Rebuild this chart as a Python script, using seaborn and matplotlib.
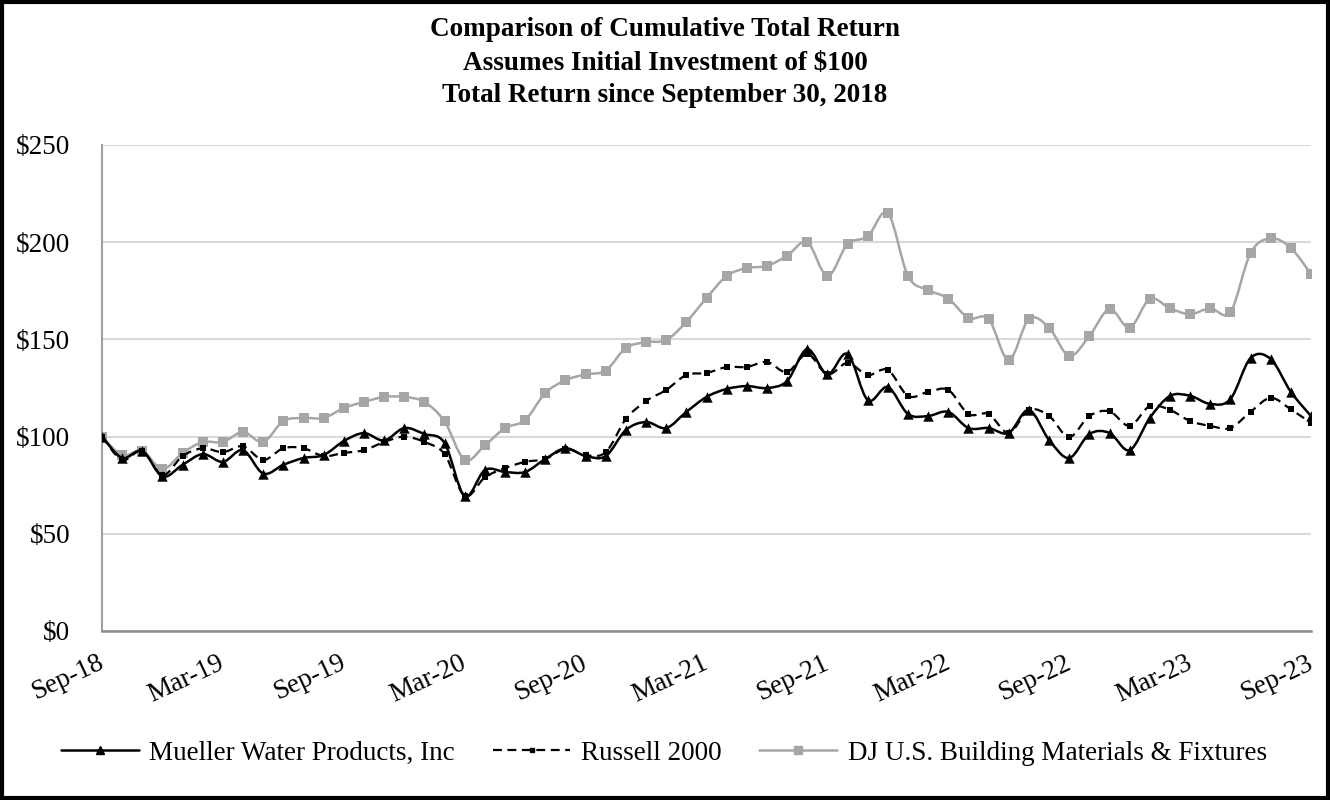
import numpy as np
import pandas as pd
import matplotlib
matplotlib.use("Agg")
import matplotlib.pyplot as plt
import matplotlib.transforms as mtransforms
import seaborn as sns
from matplotlib.path import Path
from matplotlib.patches import PathPatch, Rectangle
from matplotlib.lines import Line2D

# ---------------- data ----------------
tick_labels = ["Sep-18", "Mar-19", "Sep-19", "Mar-20", "Sep-20", "Mar-21",
               "Sep-21", "Mar-22", "Sep-22", "Mar-23", "Sep-23"]
months = list(range(61))  # monthly, Sep-18 .. Sep-23

mueller = [100, 89, 92.6, 79.5, 85.5, 91, 87, 93, 81, 85.5, 89, 90.5, 97.7,
           101.8, 98, 104.4, 101.3, 96.7, 69.4, 82.8, 81.8, 81.8, 88.5, 94,
           90, 90, 103.4, 107.5, 104.4, 112.7, 120.4, 124.5, 126, 125, 128.6,
           145, 132, 142.5, 118.8, 125.5, 111.6, 110.6, 112.7, 104.4, 104.4,
           101.9, 113.7, 98.3, 89, 101.3, 101.9, 93, 109.6, 120.9, 121, 116.8,
           119.3, 140.4, 139.9, 123, 110.6]
russell = [100, 88, 92.6, 80.2, 90, 94, 92, 95, 88, 94, 94, 90, 91.6, 93,
           97.2, 100, 97.2, 91, 69.5, 79, 83.8, 87, 88.5, 93.6, 90.5, 92, 109,
           118.3, 124, 131.7, 132.7, 135.8, 135.8, 138.4, 133.2, 142.5, 132,
           137.9, 131.7, 134.3, 120.9, 123, 124, 111.6, 111.6, 101.9, 113.7,
           110.6, 99.8, 110.6, 113, 105.5, 115.7, 113.7, 108, 105.5, 104.4,
           112.7, 119.9, 114, 107]
dj = [100, 90.5, 92.6, 83.3, 91.6, 97.2, 97.2, 102.4, 97.2, 108, 109.6, 109.6,
      114.7, 117.8, 120.4, 120.4, 117.8, 107.8, 88, 95.5, 104.4, 108.5, 122.4,
      129, 132, 134, 145.6, 148.6, 149.7, 159, 171.3, 182.6, 186.7, 187.8, 193,
      200, 182.6, 199, 203, 215, 182.6, 175.4, 171, 161, 160.5, 139.4, 160.5,
      156, 141.5, 151.7, 165.6, 156, 170.8, 166, 163, 166, 164, 194.4, 202,
      197, 183.6]

series_names = ["Mueller Water Products, Inc", "Russell 2000",
                "DJ U.S. Building Materials & Fixtures"]

df = pd.DataFrame({"month": months * 3,
                   "value": mueller + russell + dj,
                   "series": [series_names[0]] * 61 + [series_names[1]] * 61 + [series_names[2]] * 61})

# ---------------- style ----------------
sns.set_theme(style="white")
plt.rcParams['font.family'] = ['Liberation Serif', 'DejaVu Serif']
plt.rcParams['text.color'] = 'black'
plt.rcParams['xtick.color'] = 'black'
plt.rcParams['ytick.color'] = 'black'

FS = 19.5

fig = plt.figure(figsize=(13.3, 8), dpi=100)
ax = fig.add_axes([102 / 1330, 1 - 631 / 800, (1311 - 102) / 1330, (631 - 145) / 800])

GRAY = "#A6A6A6"
styles = {
    series_names[0]: dict(color="black", ls="-", lw=1.8, marker="^", ms=7.5),
    series_names[1]: dict(color="black", ls=(0, (4, 2.5)), lw=1.6, marker="s", ms=4),
    series_names[2]: dict(color=GRAY, ls="-", lw=1.8, marker="s", ms=7.5),
}


def smooth_path(xs, ys):
    xs = np.asarray(xs, float)
    ys = np.asarray(ys, float)
    n = len(xs)
    verts = [(xs[0], ys[0])]
    codes = [Path.MOVETO]
    for i in range(n - 1):
        i0 = max(i - 1, 0)
        i3 = min(i + 2, n - 1)
        c1 = (xs[i] + (xs[i + 1] - xs[i0]) / 6, ys[i] + (ys[i + 1] - ys[i0]) / 6)
        c2 = (xs[i + 1] - (xs[i3] - xs[i]) / 6, ys[i + 1] - (ys[i3] - ys[i]) / 6)
        verts += [c1, c2, (xs[i + 1], ys[i + 1])]
        codes += [Path.CURVE4] * 3
    return Path(verts, codes)


for z, name in zip([1, 2, 3], series_names[::-1]):
    st = styles[name]
    sub = df[df["series"] == name]
    patch = PathPatch(smooth_path(sub["month"], sub["value"]), facecolor="none",
                      edgecolor=st["color"], lw=st["lw"], linestyle=st["ls"], zorder=z)
    ax.add_patch(patch)
    sns.scatterplot(data=sub, x="month", y="value", ax=ax, marker=st["marker"],
                    s=st["ms"] ** 2, color=st["color"], edgecolor=st["color"],
                    linewidth=0, zorder=z + 0.5, legend=False)

handles = []
for name in series_names:
    st = styles[name]
    handles.append(Line2D([], [], color=st["color"], ls=st["ls"], lw=st["lw"],
                          marker=st["marker"], ms=st["ms"] * 0.75, label=name))

ax.set_xlim(0, 60)
ax.set_ylim(0, 250)
ax.set_xticks(range(0, 61, 6))
ax.set_xticklabels(tick_labels, rotation=25, ha="right", rotation_mode="anchor")
ax.set_yticks(range(0, 251, 50))
ax.set_yticklabels([f"${v}" for v in range(0, 251, 50)])
ax.set_xlabel("")
ax.set_ylabel("")
ax.grid(axis="y", color="#D9D9D9", lw=1.5)
ax.grid(axis="x", visible=False)
ax.set_axisbelow(True)
for s in ["top", "right"]:
    ax.spines[s].set_visible(False)
ax.spines["left"].set_color("#A0A0A0")
ax.spines["left"].set_linewidth(1.5)
ax.spines["bottom"].set_color("#8C8C8C")
ax.spines["bottom"].set_linewidth(1.8)
ax.tick_params(axis="both", which="major", labelsize=FS, labelcolor="black",
               length=9, width=1.5, direction="out")
ax.tick_params(axis="x", color="#8C8C8C", pad=5)
ax.tick_params(axis="y", color="#A0A0A0", pad=14)

shift = mtransforms.ScaledTranslation(-5 / 100, 0, fig.dpi_scale_trans)
for lbl in ax.get_xticklabels():
    lbl.set_transform(lbl.get_transform() + shift)

# title
titles = ["Comparison of Cumulative Total Return",
          "Assumes Initial Investment of $100",
          "Total Return since September 30, 2018"]
for t, yp in zip(titles, [30, 63, 96]):
    fig.text(665 / 1330, 1 - yp / 800, t, ha="center", va="center",
             fontsize=FS, fontweight="bold", color="black")

leg = fig.legend(handles=handles, loc="center", bbox_to_anchor=(664 / 1330, 1 - 753 / 800),
                 ncol=3, frameon=False, fontsize=FS, handlelength=2.85,
                 handletextpad=0.4, columnspacing=1.4)
for txt in leg.get_texts():
    txt.set_color("black")

fig.add_artist(Rectangle((0.0015, 0.0025), 0.997, 0.995, transform=fig.transFigure,
                         fill=False, edgecolor="black", lw=3))

fig.savefig("out.png", dpi=100)
